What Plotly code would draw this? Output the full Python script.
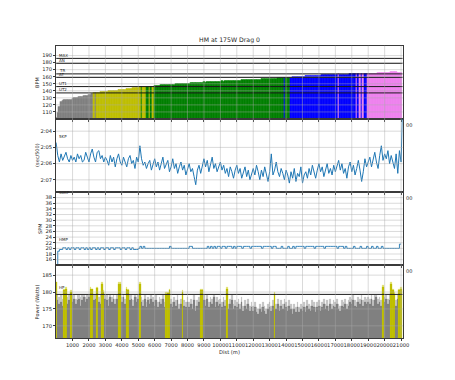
import plotly.graph_objects as go

step_m = 100
total_dist = 21097

hr = [102, 109, 118, 124, 126, 127, 127, 128, 127.5, 128,
      129.5, 130, 130, 130.5, 131, 131.5, 132, 132.5, 133, 133.5,
      134, 134.5, 135.5, 137.2, 136.8, 137.3, 138, 138.2, 138.5, 138.8,
      139, 139.2, 139.5, 139.8, 140, 140.3, 140.5, 140.8, 141, 141.3,
      141.5, 141.8, 142, 142.3, 142.5, 143, 143.3, 143.8, 144.2, 144.6,
      145, 145.5, 146.5, 145.6, 145.8, 146.4, 146.3, 145.7, 146.3, 145.8,
      147, 147.2, 147.5, 147.6, 148, 148.2, 148, 148.4, 148.7, 148.8,
      149, 149.3, 149.2, 149.6, 149.8, 150, 149.9, 150.3, 150.5, 150.6,
      150.8, 150.7, 151.1, 151.3, 151.5, 151.4, 151.8, 152, 151.9, 152.2,
      152.3, 152.2, 152.5, 152.7, 152.6, 152.9, 153.1, 153, 153.3, 153.4,
      153.5, 153.7, 153.6, 153.9, 154.1, 154, 154.3, 154.5, 154.4, 154.7,
      154.8, 154.7, 155, 155.2, 155.1, 155.4, 155.5, 155.4, 155.7, 155.8,
      155.9, 156, 156.2, 156.1, 156.4, 156.5, 156.6, 156.8, 156.7, 157,
      157.2, 157.4, 157.5, 157.6, 157.8, 157.9, 158, 158.2, 158.5, 159.3,
      158.8, 158.9, 158.9, 159.3, 159.4, 159.6, 159.8, 160, 160.1, 160.3,
      160.5, 160.6, 160.8, 161, 161.1, 161.3, 161.4, 161.6, 161.7, 161.9,
      162, 162.1, 162.2, 162.4, 162.5, 162.6, 162.7, 162.8, 162.9, 163,
      163.1, 163.2, 164.1, 163.2, 163.3, 163.4, 163.4, 163.5, 163.5, 163.6,
      163.6, 163.7, 163.8, 164.2, 163.8, 164.1, 163.9, 164.2, 163.9, 163.8,
      164.5, 164.6, 164.7, 164.8, 164.8, 164.9, 165, 165.1, 165.2, 165.3,
      165.4, 165.5, 165.7, 166, 166.5, 167.5, 166.8, 166.5, 166.2, 166,
      165.8]

pace = [124.7, 125.5, 125.9, 125.4, 125.8, 125.6, 125.3, 125.7, 125.9, 125.5,
        125.8, 125.6, 125.9, 125.4, 125.7, 125.5, 125.9, 125.8, 125.3, 125.6,
        125.9, 125.4, 125.1, 125.6, 125.9, 125.3, 125.2, 125.7, 125.5, 125.9,
        125.6, 125.8, 126.1, 125.5, 125.9, 125.6, 126.2, 125.7, 125.4, 125.9,
        126.1, 125.6, 125.9, 126.2, 125.7, 125.5, 126.0, 125.8, 126.3, 125.6,
        125.9, 124.9, 125.7, 126.1, 125.9, 126.3, 126.0, 125.8, 126.4, 126.1,
        125.7, 126.2, 125.9, 126.4, 126.0, 125.6, 126.3, 126.1, 125.8, 126.5,
        126.2, 125.7, 126.3, 126.0, 126.6, 126.2, 125.9, 126.4, 126.1, 126.7,
        126.3, 126.0, 126.5, 126.3, 126.8, 127.3, 126.4, 126.1, 126.6, 126.2,
        125.7, 126.2, 125.8, 126.5, 126.1, 125.6, 126.3, 126.0, 126.5, 126.2,
        125.9, 126.4, 126.1, 126.6, 126.3, 126.8, 126.2, 126.5, 126.9, 126.4,
        126.1, 126.6, 126.3, 126.9, 126.5, 126.2, 126.8, 126.4, 127.0, 126.6,
        126.3, 126.7, 126.1, 126.5, 127.0, 126.4, 126.8, 126.2, 126.6, 127.1,
        126.5, 125.4, 126.7, 126.4, 125.9, 126.5, 126.8, 126.3, 126.6, 127.0,
        126.4, 126.7, 127.2, 126.5, 126.9, 126.3, 127.1, 126.6, 126.8, 126.2,
        127.2, 126.7, 126.5, 126.9, 126.3, 126.7, 126.1, 126.6, 126.9, 126.4,
        126.0, 126.5, 126.2, 126.8, 126.4, 126.0, 126.6, 126.3, 126.7, 126.1,
        126.5, 126.2, 125.8, 126.4, 126.0, 126.6, 126.3, 126.9, 126.2, 125.9,
        126.5, 126.1, 126.7, 126.3, 125.8, 126.4, 127.1, 126.5, 125.7, 126.2,
        125.9, 125.6, 126.2, 125.8, 125.3, 125.9, 126.3, 125.5, 124.9, 125.8,
        125.4, 125.7, 125.2, 126.0, 125.5, 125.9, 126.3, 125.4, 126.6, 125.2,
        125.9]
pace_final = 122.5

spm = [14, 19, 19.6, 19.6, 20.2, 20.2, 19.6, 20.2, 19.6, 20.2,
       20.2, 19.6, 20.2, 20.2, 19.6, 20.2, 20.2, 19.6, 20.2, 19.6,
       20.2, 19.6, 20.2, 20.2, 19.6, 20.2, 19.6, 20.2, 20.2, 19.6,
       20.2, 20.2, 19.6, 20.2, 20.2, 19.6, 20.2, 20.2, 20.2, 19.6,
       20.2, 20.2, 19.6, 20.2, 20.2, 19.6, 20.2, 19.6, 19.6, 19.6,
       20, 20.7, 20, 20.7, 20, 20, 20, 20, 20, 20,
       20, 20, 20, 20, 20, 20, 20, 20, 20, 20.7,
       20, 20, 20, 20, 20, 20, 20, 20, 20, 20,
       20, 20.7, 20.7, 20, 20, 20, 20, 20, 20, 20,
       20, 20, 20.7, 20, 20.7, 20, 20.7, 20, 20.7, 20.7,
       20, 20.7, 20.7, 20, 20.7, 20.7, 20.7, 20, 20.7, 20,
       20.7, 20.7, 20.7, 20, 20.7, 20.7, 20.7, 20.7, 20, 20.7,
       20.7, 20.7, 20.7, 20.7, 20.7, 20, 20.7, 20.7, 20.7, 20.7,
       20.7, 20, 20.7, 20.7, 20, 20, 20, 20.7, 20, 20,
       20, 20.7, 20, 20, 20.7, 20, 20.7, 20.7, 20.7, 20.7,
       20.7, 20, 20.7, 20.7, 20.7, 20.7, 20.7, 20, 20.7, 20.7,
       20.7, 20.7, 20.7, 20, 20.7, 20.7, 20.7, 20.7, 20.7, 20.7,
       20.7, 20, 20.7, 20.7, 20.7, 20, 20.7, 20, 20, 20,
       20, 20.7, 20, 20, 20, 20.7, 20, 20, 20, 20.7,
       20, 20, 20.7, 20, 20, 20.7, 20, 20, 20.7, 20,
       20, 20, 20, 20, 20, 20, 20, 20, 20, 21.5,
       21.5]

power = [183, 177.5, 176.5, 177, 176, 180.5, 181, 176.5, 177.5, 180,
         177, 178, 176.5, 177.5, 178, 176, 177.5, 178.5, 177, 178,
         178.5, 181, 181, 177.5, 178, 181.3, 177, 176.5, 182.5, 180,
         178, 177.5, 176, 178.5, 177, 178, 176.5, 178, 182.5, 182.5,
         177, 178.5, 176.5, 181, 180.5, 177.5, 178, 176, 178.5, 177,
         178, 182.5, 177, 176, 178, 175.5, 177.5, 176.5, 178, 177,
         176, 177.5, 175.5, 177, 176.5, 178, 175.5, 179.5, 179.8, 180.5,
         176.5, 175.5, 177, 176, 177.5, 175, 176.5, 180, 176, 175.5,
         177, 175.5, 176.5, 175, 177.5, 174.5, 176, 177, 180.5, 180.5,
         177.5, 176, 178, 175.5, 177, 176.5, 178.5, 175.5, 177, 176,
         176.5, 175.5, 177, 176, 181, 175, 176.5, 177.5, 175, 176,
         175.5, 176.5, 175, 177, 174.5, 176, 175, 176.5, 174.5, 175.5,
         174.5, 175.5, 174, 173.5, 175, 174, 175.5, 174.5, 173.5, 175,
         175.5, 174.5, 176, 179.5, 175, 176.5, 174.5, 176, 175, 176.5,
         175.5, 174.5, 176, 175, 173.5, 175, 174, 175.5, 174, 175,
         174.5, 175.5, 174, 176, 175, 174.5, 176, 175.5, 174, 175.5,
         176, 174.5, 175.5, 176.5, 175, 176, 174.5, 176.5, 175, 176,
         175.5, 176.5, 175, 174.5, 176, 175.5, 176.5, 175, 176, 177,
         176.5, 177.5, 176, 175.5, 177, 176.5, 177.5, 176, 177, 176.5,
         177, 176.5, 178, 176, 177.5, 178.5, 176.5, 177, 176, 181.5,
         177, 178, 176.5, 177.5, 182.5, 180.5, 179.5, 176, 178, 180.5,
         181]

power_light = [183, 179, 178.5, 179, 178, 181, 181.5, 178.5, 179, 180.5,
               179, 179, 178, 179, 179, 178.5, 179, 179, 178.5, 179,
               179, 181.5, 181, 179, 179, 181.5, 178.5, 179, 183, 180.5,
               179, 179, 178, 179, 178.5, 179, 178, 179, 183, 183,
               178.5, 179, 178, 181.5, 181, 179, 179, 177.5, 179, 178.5,
               179, 183, 178.5, 177.5, 179, 177, 178.5, 178, 179, 178.5,
               177.5, 179, 177, 178.5, 178, 179, 177, 180, 180, 181,
               178, 177, 178.5, 177.5, 179, 176.5, 178, 180.5, 177.5, 177,
               178.5, 177, 178, 176.5, 179, 176, 177.5, 178.5, 181, 181,
               179, 177.5, 179, 177, 178.5, 178, 179, 177, 178.5, 177.5,
               178, 177, 178.5, 177.5, 181.5, 176.5, 178, 179, 176.5, 177.5,
               177, 178, 176.5, 178.5, 176, 177.5, 176.5, 178, 176, 177,
               176, 177, 175.5, 175, 176.5, 175.5, 177, 176, 175, 176.5,
               177, 176, 177.5, 180, 176.5, 178, 176, 177.5, 176.5, 178,
               177, 176, 177.5, 176.5, 175, 176.5, 175.5, 177, 175.5, 176.5,
               176, 177, 175.5, 177.5, 176.5, 176, 177.5, 177, 175.5, 177,
               177.5, 176, 177, 178, 176.5, 177.5, 176, 178, 176.5, 177.5,
               177, 178, 176.5, 176, 177.5, 177, 178, 176.5, 177.5, 178.5,
               178, 179, 177.5, 177, 178.5, 178, 179, 177.5, 178.5, 178,
               178.5, 178, 179, 177.5, 179, 179, 178, 178.5, 177.5, 182,
               178.5, 179, 178, 179, 183, 181, 180, 177.5, 179, 181,
               181.5]

hr_zone_names = ["UT2", "UT1", "AT", "TR", "AN", "MAX"]
hr_zone_values = [137, 146, 159, 164, 179, 186]
hr_zone_colors = ["#808080", "#bfbf00", "#008000", "#0000ff", "#ee82ee", "#ee82ee"]
power_line_label = "HP"
power_line_value = 179.3

x_ticks = list(range(1000, 22000, 1000))
x_labels = [str(v) for v in x_ticks]
hr_ticks = list(range(110, 200, 10))
pace_ticks = [124, 125, 126, 127]
pace_labels = ["2:04", "2:05", "2:06", "2:07"]
spm_ticks = list(range(16, 40, 2))
power_ticks = [170, 175, 180, 185]

dist = [i * step_m for i in range(len(hr))]


def hr_color(v):
    c = hr_zone_colors[0]
    for lim, col in zip(hr_zone_values[:5], hr_zone_colors[1:]):
        if v >= lim:
            c = col
    return c


hr_cols = [hr_color(v) for v in hr]
pw_cols = ["#bfbf00" if v >= power_line_value else "#808080" for v in power]
pwl_cols = ["#e3e37a" if v >= power_line_value else "#c6c6c6" for v in power]

W, H = 455, 380
xl, xr = 57, 409
panels = [(45.7, 119), (119, 191.7), (191.7, 265), (265, 338)]


def ydom(t, b):
    return [1 - b / H, 1 - t / H]


FONT = "DejaVu Sans"
TXT = "#262626"
GRID = "rgba(170,170,170,0.55)"
SPINE = "#3a3a3a"

fig = go.Figure()

# Panel 1: heart rate bars
fig.add_trace(go.Bar(x=dist, y=hr, width=step_m, marker=dict(color=hr_cols, line=dict(color=hr_cols, width=0.4)),
                     xaxis="x", yaxis="y", showlegend=False))
for v in hr_zone_values:
    fig.add_trace(go.Scatter(x=[0, 21100], y=[v, v], mode="lines", line=dict(color="#1a1a1a", width=1),
                             xaxis="x", yaxis="y", showlegend=False))

# Panel 2: pace
fig.add_trace(go.Scatter(x=dist + [total_dist], y=pace + [pace_final], mode="lines",
                         line=dict(color="#1f77b4", width=1), xaxis="x2", yaxis="y2", showlegend=False))

# Panel 3: SPM
fig.add_trace(go.Scatter(x=dist, y=spm, mode="lines", line=dict(color="#1f77b4", width=0.9, shape="hv"),
                         xaxis="x3", yaxis="y3", showlegend=False))

# Panel 4: power
fig.add_trace(go.Bar(x=dist, y=power_light, width=step_m,
                     marker=dict(color=pwl_cols, line=dict(color=pwl_cols, width=0.2)),
                     xaxis="x4", yaxis="y4", showlegend=False))
fig.add_trace(go.Bar(x=dist, y=power, width=step_m,
                     marker=dict(color=pw_cols, line=dict(color=pw_cols, width=0.2)),
                     xaxis="x4", yaxis="y4", showlegend=False))
fig.add_trace(go.Scatter(x=[0, 21100], y=[power_line_value, power_line_value], mode="lines",
                         line=dict(color="#1a1a1a", width=1), xaxis="x4", yaxis="y4", showlegend=False))

xdom = [xl / W, xr / W]
yranges = [[100, 204], [127.73, 123.25], [14.1, 40.1], [166.4, 188]]
yticks = [hr_ticks, pace_ticks, spm_ticks, power_ticks]

layout = dict(width=W, height=H, margin=dict(l=0, r=0, t=0, b=0), paper_bgcolor="white",
              plot_bgcolor="white", barmode="overlay", bargap=0,
              font=dict(family=FONT, size=5, color=TXT))
for k in range(4):
    xs = "xaxis" if k == 0 else f"xaxis{k+1}"
    ys = "yaxis" if k == 0 else f"yaxis{k+1}"
    ya = "y" if k == 0 else f"y{k+1}"
    layout[xs] = dict(domain=xdom, range=[0, 21100], anchor=ya, showgrid=False, zeroline=False,
                      showline=True, mirror=True, linecolor=SPINE, linewidth=0.8,
                      tickvals=x_ticks, ticktext=x_labels, tickangle=0, ticks="outside", ticklen=2,
                      tickcolor=SPINE, showticklabels=(k == 3),
                      tickfont=dict(size=5.2, color=TXT, family=FONT))
    yd = dict(domain=ydom(*panels[k]), range=yranges[k], anchor="x" if k == 0 else f"x{k+1}",
              showgrid=False, zeroline=False, showline=True, mirror=True, linecolor=SPINE,
              linewidth=0.8, tickvals=yticks[k], ticks="outside", ticklen=2, tickcolor=SPINE,
              tickfont=dict(size=5.2, color=TXT, family=FONT))
    if k == 1:
        yd["ticktext"] = pace_labels
    layout[ys] = yd
fig.update_layout(**layout)

# grid drawn above the marks, as in the reference
shapes = []
for k in range(4):
    xr_ = "x" if k == 0 else f"x{k+1}"
    yr_ = "y" if k == 0 else f"y{k+1}"
    for xv in x_ticks:
        shapes.append(dict(type="line", xref=xr_, yref=yr_ + " domain", x0=xv, x1=xv, y0=0, y1=1,
                           line=dict(color=GRID, width=0.8), layer="above"))
    for yv in yticks[k]:
        shapes.append(dict(type="line", xref=xr_ + " domain", yref=yr_, x0=0, x1=1, y0=yv, y1=yv,
                           line=dict(color=GRID, width=0.8), layer="above"))
fig.update_layout(shapes=shapes)

ann = []
for name, v in zip(hr_zone_names, hr_zone_values):
    ann.append(dict(x=0, y=v, xref="x", yref="y", text=name, showarrow=False, xanchor="left",
                    yanchor="bottom", xshift=1, yshift=-1.5, font=dict(size=4, color=TXT)))
ann.append(dict(x=0, y=power_line_value, xref="x4", yref="y4", text=power_line_label, showarrow=False,
                xanchor="left", yanchor="bottom", xshift=1, yshift=2, font=dict(size=4, color=TXT)))


def px_ann(text, x, y, size=4, angle=0, xanchor="left"):
    ann.append(dict(x=x / W, y=1 - y / H, xref="paper", yref="paper", text=text, showarrow=False,
                    xanchor=xanchor, yanchor="middle", textangle=angle, font=dict(size=size, color=TXT)))


px_ann("5KP", 57.5, 136.7)
px_ann("30KP", 57.5, 192.6)
px_ann("HMP", 57.5, 239.3)
px_ann("00", 410, 125, size=5)
px_ann("00", 410, 198, size=5)
px_ann("00", 410, 270.7, size=5)
px_ann("HM at 175W Drag 0", 233, 40, size=6.2, xanchor="center")
px_ann("Dist (m)", 233, 352, size=5.2, xanchor="center")
px_ann("BPM", 37.5, 82, size=5, angle=-90, xanchor="center")
px_ann("(sec/500)", 37.5, 155, size=5, angle=-90, xanchor="center")
px_ann("SPM", 40.5, 228, size=5, angle=-90, xanchor="center")
px_ann("Power (Watts)", 38, 302, size=5, angle=-90, xanchor="center")
fig.update_layout(annotations=ann)

fig.write_html("out.html")
